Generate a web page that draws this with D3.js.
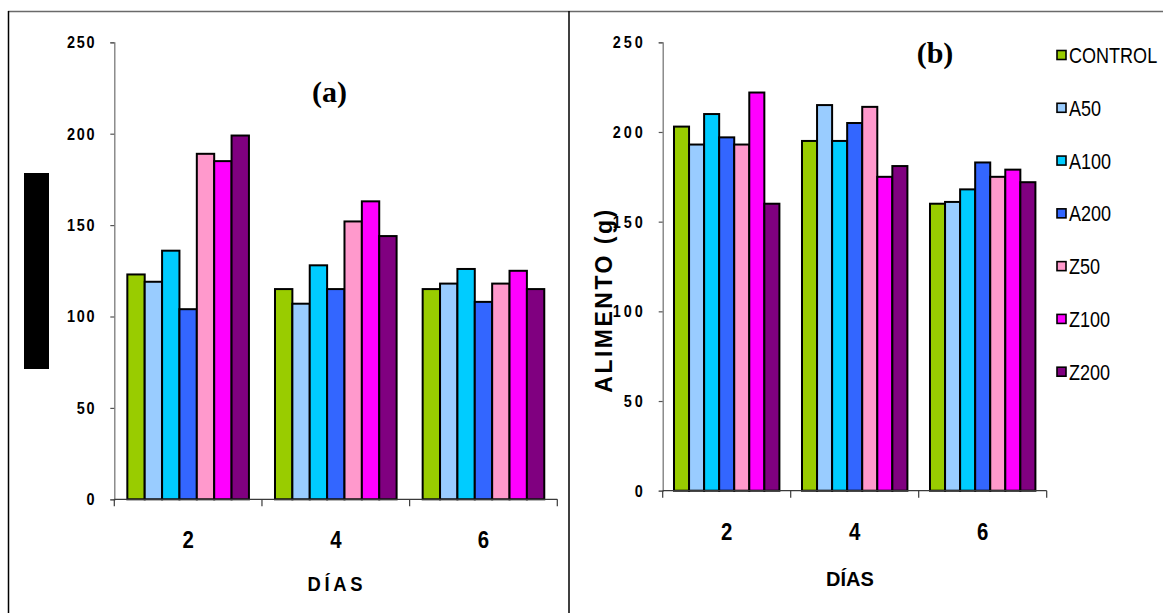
<!DOCTYPE html>
<html>
<head>
<meta charset="utf-8">
<script src="https://cdn.jsdelivr.net/npm/d3@7"></script>
<style>
  html, body { margin: 0; padding: 0; background: #fff; }
  svg { display: block; }
</style>
</head>
<body>
<svg id="chart" width="1163" height="613"></svg>
<script>
// Days of measurement and treatments
const days = ["2", "4", "6"];
const treatments = ["CONTROL", "A50", "A100", "A200", "Z50", "Z100", "Z200"];
const colors = ["#99CC00", "#99CCFF", "#00CCFF", "#3366FF", "#FF99CC", "#FF00FF", "#800080"];
const yTicks = [0, 50, 100, 150, 200, 250];

// Panel (a): values per treatment for days 2, 4, 6
const panelA = {
  CONTROL: [123, 115, 115],
  A50:     [119, 107, 118],
  A100:    [136, 128, 126],
  A200:    [104, 115, 108],
  Z50:     [189, 152, 118],
  Z100:    [185, 163, 125],
  Z200:    [199, 144, 115]
};

// Panel (b): ALIMENTO (g) per treatment for days 2, 4, 6
const panelB = {
  CONTROL: [203, 195, 160],
  A50:     [193, 215, 161],
  A100:    [210, 195, 168],
  A200:    [197, 205, 183],
  Z50:     [193, 214, 175],
  Z100:    [222, 175, 179],
  Z200:    [160, 181, 172]
};

const SANS = "'Liberation Sans', Arial, sans-serif";
const svg = d3.select("#chart");
svg.append("rect").attr("width", 1163).attr("height", 613).attr("fill", "#fff");

// Frame lines
svg.append("line").attr("x1", 8).attr("x2", 1163).attr("y1", 11.5).attr("y2", 11.5)
  .attr("stroke", "#6a6a6a").attr("stroke-width", 1.5);
svg.append("line").attr("x1", 8.5).attr("x2", 8.5).attr("y1", 11).attr("y2", 613)
  .attr("stroke", "#000").attr("stroke-width", 1.5);
svg.append("line").attr("x1", 569).attr("x2", 569).attr("y1", 11).attr("y2", 613)
  .attr("stroke", "#000").attr("stroke-width", 1.5);

function drawPanel(cfg) {
  const g = svg.append("g");
  const x = d3.scaleBand().domain(days).range([cfg.left, cfg.right]).padding(0);
  const bw = x.bandwidth();
  const xi = d3.scaleBand().domain(treatments).range([0, bw]).paddingInner(0).paddingOuter(0.75);
  const y = d3.scaleLinear().domain([0, 250]).range([cfg.bottom, cfg.top]);

  // Bars
  treatments.forEach((t, i) => {
    g.selectAll(null)
      .data(cfg.data[t].map((v, k) => ({ day: days[k], v })))
      .join("rect")
      .attr("x", d => x(d.day) + xi(t))
      .attr("y", d => y(d.v))
      .attr("width", xi.bandwidth())
      .attr("height", d => y(0) - y(d.v))
      .attr("fill", colors[i])
      .attr("stroke", "#000")
      .attr("stroke-width", 2);
  });

  // Y axis (labels drawn slightly condensed)
  const sx = 0.85;
  const ya = g.append("g")
    .attr("transform", `translate(${cfg.left},0)`)
    .call(d3.axisLeft(y).tickValues(yTicks).tickSize(4).tickPadding(cfg.yPad).tickFormat(d3.format("d")));
  ya.select(".domain").attr("stroke", "#7a7a7a").attr("stroke-width", 1.3);
  ya.selectAll(".tick line").attr("stroke", "#555").attr("stroke-width", 1.2);
  ya.selectAll(".tick text")
    .attr("fill", "#000")
    .attr("x", -(4 + cfg.yPad) / sx)
    .attr("transform", `scale(${sx},1)`)
    .style("font-family", SANS)
    .style("font-weight", "bold")
    .style("font-size", "17px")
    .style("letter-spacing", cfg.yLs + "px");

  // X axis: labels centred in each band, ticks on band boundaries
  const xa = g.append("g")
    .attr("transform", `translate(0,${cfg.bottom})`)
    .call(d3.axisBottom(x).tickSize(0).tickPadding(32));
  xa.select(".domain").remove();
  xa.selectAll(".tick text")
    .attr("fill", "#000")
    .attr("transform", "scale(0.85,1)")
    .style("font-family", SANS)
    .style("font-weight", "bold")
    .style("font-size", "24px");
  g.append("line")
    .attr("x1", cfg.left).attr("x2", cfg.right)
    .attr("y1", cfg.bottom).attr("y2", cfg.bottom)
    .attr("stroke", "#3a3a3a").attr("stroke-width", 1.3);
  const bounds = days.map(d => x(d)).concat([x(days[days.length - 1]) + bw]);
  g.selectAll(null).data(bounds).join("line")
    .attr("x1", d => d).attr("x2", d => d)
    .attr("y1", cfg.bottom).attr("y2", cfg.bottom + 7)
    .attr("stroke", "#3a3a3a").attr("stroke-width", 1.2);

  // Axis title
  g.append("g")
    .attr("transform", `translate(${cfg.xTitle.x + cfg.xTitle.ls * cfg.xTitle.sx / 2},${cfg.xTitle.y}) scale(${cfg.xTitle.sx},1)`)
    .append("text")
    .attr("text-anchor", "middle")
    .style("font-family", SANS)
    .style("font-weight", "bold")
    .style("font-size", cfg.xTitle.size + "px")
    .style("letter-spacing", cfg.xTitle.ls + "px")
    .text("DÍAS");

  // Panel tag
  g.append("text")
    .attr("x", cfg.tag.x).attr("y", cfg.tag.y)
    .attr("text-anchor", "middle")
    .style("font-family", "'Liberation Serif', 'Times New Roman', serif")
    .style("font-weight", "bold")
    .style("font-size", "30px")
    .text(cfg.tag.text);
}

drawPanel({
  data: panelA, left: 114.3, right: 557.3, top: 42.3, bottom: 499.3,
  yPad: 14, yLs: 2,
  xTitle: { x: 335, y: 590.5, size: 20, ls: 4, sx: 0.92 },
  tag: { x: 329.5, y: 101.5, text: "(a)" }
});

drawPanel({
  data: panelB, left: 662.7, right: 1046.7, top: 42.3, bottom: 490.7,
  yPad: 13, yLs: 3.5,
  xTitle: { x: 850, y: 585.7, size: 20, ls: 0, sx: 1 },
  tag: { x: 935, y: 63, text: "(b)" }
});

// Covered y-axis title area in panel (a)
svg.append("rect").attr("x", 24).attr("y", 173).attr("width", 25).attr("height", 196).attr("fill", "#000");

// Y-axis title of panel (b)
svg.append("text")
  .attr("transform", "translate(612,300) rotate(-90)")
  .attr("text-anchor", "middle")
  .style("font-family", SANS)
  .style("font-weight", "bold")
  .style("font-size", "23px")
  .style("letter-spacing", "2.5px")
  .text("ALIMENTO (g)");

// Legend
const legend = svg.append("g");
const rowY = d3.scalePoint().domain(treatments).range([55, 371.7]);
treatments.forEach((t, i) => {
  const cy = rowY(t);
  legend.append("rect")
    .attr("x", 1057).attr("y", cy - 4.5)
    .attr("width", 9).attr("height", 9)
    .attr("fill", colors[i]).attr("stroke", "#000").attr("stroke-width", 1.6);
  legend.append("g")
    .attr("transform", `translate(1069,${cy + 8}) scale(0.82,1)`)
    .append("text")
    .style("font-family", SANS)
    .style("font-size", "22px")
    .attr("fill", "#000")
    .text(t);
});
</script>
</body>
</html>
